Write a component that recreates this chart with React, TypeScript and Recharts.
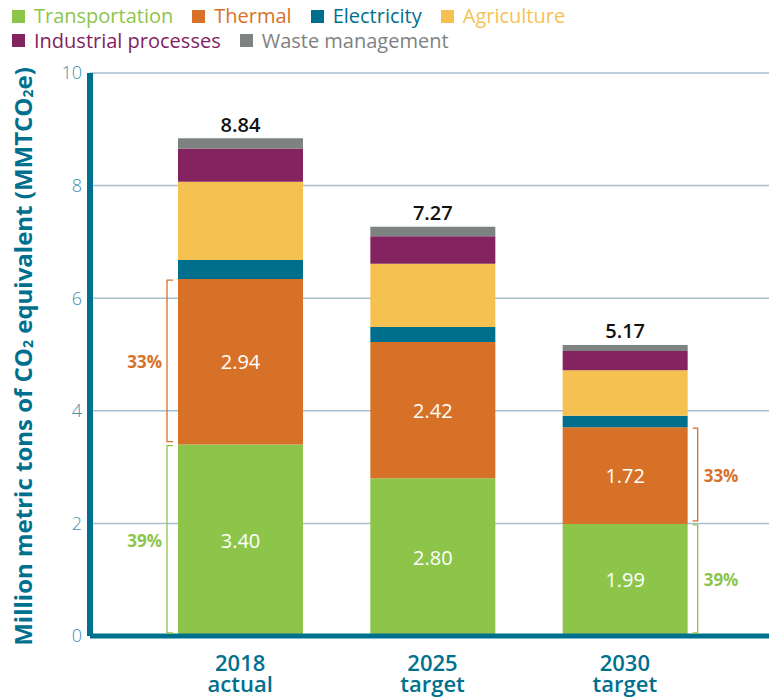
import React from 'react';
import { BarChart, Bar, XAxis, YAxis, CartesianGrid, LabelList } from 'recharts';

// categories and values (MMTCO2e)
const years = ['2018', '2025', '2030'];
const yearNotes = ['actual', 'target', 'target'];
const transportation = [3.40, 2.80, 1.99];
const thermal = [2.94, 2.42, 1.72];
const electricity = [0.34, 0.27, 0.20];
const agriculture = [1.39, 1.12, 0.81];
const industrial = [0.59, 0.49, 0.34];
const waste = [0.18, 0.17, 0.11];
const totals = [8.84, 7.27, 5.17];
const transportShare = ['39%', null, '39%'];
const thermalShare = ['33%', null, '33%'];
const yTicks = [0, 2, 4, 6, 8, 10];

const FONT = '"Open Sans", "Noto Sans", sans-serif';
const TEAL = '#00708f';

const series = [
  { key: 'transportation', name: 'Transportation', color: '#8dc54b' },
  { key: 'thermal', name: 'Thermal', color: '#d87128' },
  { key: 'electricity', name: 'Electricity', color: '#006f8e' },
  { key: 'agriculture', name: 'Agriculture', color: '#f5c252' },
  { key: 'industrial', name: 'Industrial processes', color: '#83235f' },
  { key: 'waste', name: 'Waste management', color: '#7e8281' },
];

const data = years.map((y, i) => ({
  year: y,
  note: yearNotes[i],
  transportation: transportation[i],
  thermal: thermal[i],
  electricity: electricity[i],
  agriculture: agriculture[i],
  industrial: industrial[i],
  waste: waste[i],
  total: totals[i],
}));

// value inside the segment + bracket with share for the first and last bar
const segmentLabel = (shares: (string | null)[], color: string) => (props: any) => {
  const { x, y, width, height, index, value } = props;
  const cx = x + width / 2;
  const cy = y + height / 2;
  const share = shares[index];
  let bracket = null;
  if (share) {
    if (index === 0) {
      const bx = x - 11;
      bracket = (
        <g>
          <path d={`M${x - 5},${y + 1} H${bx} V${y + height - 3} H${x - 5}`} fill="none" stroke={color} strokeWidth={1.3} />
          <text x={bx - 5} y={cy} textAnchor="end" dominantBaseline="central" fill={color} fontSize={17} fontWeight={700} fontFamily={FONT}>
            {share}
          </text>
        </g>
      );
    } else {
      const bx = x + width + 10;
      bracket = (
        <g>
          <path d={`M${x + width + 5},${y + 1} H${bx} V${y + height - 3} H${x + width + 5}`} fill="none" stroke={color} strokeWidth={1.3} />
          <text x={bx + 6} y={cy} textAnchor="start" dominantBaseline="central" fill={color} fontSize={17} fontWeight={700} fontFamily={FONT}>
            {share}
          </text>
        </g>
      );
    }
  }
  return (
    <g>
      <text x={cx} y={cy} textAnchor="middle" dominantBaseline="central" fill="#fff" fontSize={20} fontFamily={FONT}>
        {Number(value).toFixed(2)}
      </text>
      {bracket}
    </g>
  );
};

const totalLabel = (props: any) => {
  const { x, y, width, index } = props;
  return (
    <text x={x + width / 2} y={y - 14} textAnchor="middle" dominantBaseline="central" fill="#111" fontSize={20} fontWeight={600} fontFamily={FONT}>
      {totals[index].toFixed(2)}
    </text>
  );
};

const YearTick = (props: any) => {
  const { x, y, payload, index } = props;
  return (
    <g>
      <text x={x} y={y + 27} textAnchor="middle" fill={TEAL} fontSize={22} fontWeight={600} fontFamily={FONT}>
        {payload.value}
      </text>
      <text x={x} y={y + 48} textAnchor="middle" fill={TEAL} fontSize={22} fontWeight={600} fontFamily={FONT}>
        {yearNotes[index]}
      </text>
    </g>
  );
};

const YLabel = (props: any) => {
  const vb = props.viewBox || { y: 73, height: 563 };
  const cx = 22;
  const cy = vb.y + vb.height / 2 + 2;
  return (
    <text
      x={cx}
      y={cy}
      transform={`rotate(-90, ${cx}, ${cy})`}
      textAnchor="middle"
      dominantBaseline="central"
      fill={TEAL}
      fontSize={24}
      fontWeight={700}
      fontFamily={FONT}
    >
      Million metric tons of CO<tspan fontSize={14} dy={5}>2</tspan>
      <tspan dy={-5}> equivalent (MMTCO</tspan>
      <tspan fontSize={14} dy={5}>2</tspan>
      <tspan dy={-5}>e)</tspan>
    </text>
  );
};

function LegendItem({ name, color }: { name: string; color: string }) {
  return (
    <span style={{ display: 'inline-flex', alignItems: 'center', marginRight: 19 }}>
      <span style={{ width: 13, height: 13, background: color, display: 'inline-block', marginRight: 9 }} />
      <span style={{ color, fontSize: 20, fontWeight: 500 }}>{name}</span>
    </span>
  );
}

export default function App() {
  return (
    <div style={{ position: 'absolute', left: 0, top: 0, width: 769, height: 698, background: '#fff', fontFamily: FONT, overflow: 'hidden' }}>
      <div style={{ position: 'absolute', left: 12, top: 4, lineHeight: '24px', whiteSpace: 'nowrap' }}>
        <div>
          {series.slice(0, 4).map(s => (
            <LegendItem key={s.key} name={s.name} color={s.color} />
          ))}
        </div>
        <div>
          {series.slice(4).map(s => (
            <LegendItem key={s.key} name={s.name} color={s.color} />
          ))}
        </div>
      </div>
      <BarChart width={769} height={698} data={data} margin={{ top: 73, right: 0, left: 0, bottom: 0 }} barCategoryGap={0}>
        <CartesianGrid vertical={false} stroke="#a8bfd0" strokeWidth={1.5} />
        <XAxis
          dataKey="year"
          height={62}
          tick={<YearTick />}
          tickLine={false}
          axisLine={{ stroke: TEAL, strokeWidth: 5 }}
          padding={{ left: 54, right: 48 }}
          interval={0}
        />
        <YAxis
          width={90}
          domain={[0, 10]}
          ticks={yTicks}
          tickLine={false}
          axisLine={{ stroke: TEAL, strokeWidth: 6 }}
          tick={{ fill: '#3f8fae', fontSize: 18, fontFamily: FONT, fontWeight: 300 }}
          tickMargin={2}
          label={<YLabel />}
        />
        <Bar dataKey="transportation" stackId="a" fill={series[0].color} barSize={125} isAnimationActive={false}>
          <LabelList dataKey="transportation" content={segmentLabel(transportShare, series[0].color)} />
        </Bar>
        <Bar dataKey="thermal" stackId="a" fill={series[1].color} barSize={125} isAnimationActive={false}>
          <LabelList dataKey="thermal" content={segmentLabel(thermalShare, series[1].color)} />
        </Bar>
        <Bar dataKey="electricity" stackId="a" fill={series[2].color} barSize={125} isAnimationActive={false} />
        <Bar dataKey="agriculture" stackId="a" fill={series[3].color} barSize={125} isAnimationActive={false} />
        <Bar dataKey="industrial" stackId="a" fill={series[4].color} barSize={125} isAnimationActive={false} />
        <Bar dataKey="waste" stackId="a" fill={series[5].color} barSize={125} isAnimationActive={false}>
          <LabelList dataKey="waste" content={totalLabel} />
        </Bar>
      </BarChart>
    </div>
  );
}
